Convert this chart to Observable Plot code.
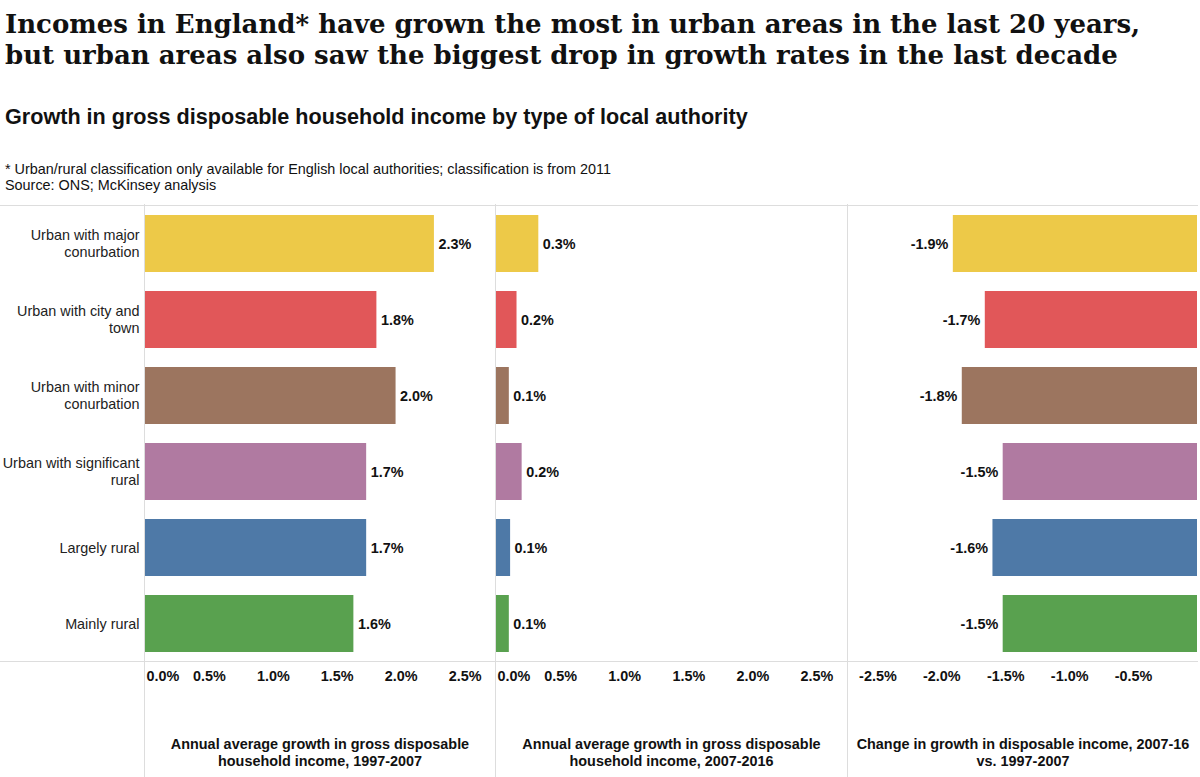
<!DOCTYPE html>
<html>
<head>
<meta charset="utf-8">
<script src="https://cdn.jsdelivr.net/npm/d3@7"></script>
<script src="https://cdn.jsdelivr.net/npm/@observablehq/plot@0.6"></script>
<style>
  body { margin: 0; background: #fff; }
  #page { position: relative; width: 1200px; height: 777px; overflow: hidden; font-family: "Liberation Sans", Arial, sans-serif; color: #111; }
  .title { position: absolute; left: 5px; top: 9px; font-family: "DejaVu Serif", Georgia, serif; font-weight: bold; font-size: 26px; line-height: 31px; white-space: nowrap; color: #111; }
  .subtitle { position: absolute; left: 5px; top: 104px; font-weight: bold; font-size: 21.6px; white-space: nowrap; color: #111; }
  .notes { position: absolute; left: 5px; top: 161px; font-size: 14.4px; line-height: 16px; white-space: nowrap; color: #111; }
  .panel { position: absolute; top: 204px; }
  .sep { border-left: 1px solid #dddddd; }
  .panel svg { display: block; }
</style>
</head>
<body>
<div id="page">
  <div class="title">Incomes in England* have grown the most in urban areas in the last 20 years,<br>but urban areas also saw the biggest drop in growth rates in the last decade</div>
  <div class="subtitle">Growth in gross disposable household income by type of local authority</div>
  <div class="notes">* Urban/rural classification only available for English local authorities; classification is from 2011<br>Source: ONS; McKinsey analysis</div>
  <div id="labels" class="panel" style="left:0px;"></div>
  <div id="p1" class="panel sep" style="left:144px;"></div>
  <div id="p2" class="panel sep" style="left:495px;"></div>
  <div id="p3" class="panel sep" style="left:847px;"></div>
</div>
<script>
// Local authority types (top to bottom) and their wrapped row labels
const categories = [
  "Urban with major conurbation",
  "Urban with city and town",
  "Urban with minor conurbation",
  "Urban with significant rural",
  "Largely rural",
  "Mainly rural"
];
const rowLabels = [
  "Urban with major\nconurbation",
  "Urban with city and\ntown",
  "Urban with minor\nconurbation",
  "Urban with significant\nrural",
  "Largely rural",
  "Mainly rural"
];
const palette = ["#EDC948", "#E15759", "#9C755F", "#B07AA1", "#4E79A7", "#59A14F"];

// Annual average growth in GDHI, % per year
const growth1997to2007 = [2.26, 1.81, 1.96, 1.73, 1.73, 1.63];
const growth2007to2016 = [0.33, 0.16, 0.10, 0.20, 0.11, 0.10];
// Change in growth rate, percentage points
const growthChange = [-1.91, -1.66, -1.84, -1.52, -1.60, -1.52];

// Axis ticks and titles
const ticksPositive = [0, 0.5, 1.0, 1.5, 2.0, 2.5];
const ticksNegative = [-2.5, -2.0, -1.5, -1.0, -0.5];
const axisTitles = [
  "Annual average growth in gross disposable\nhousehold income, 1997-2007",
  "Annual average growth in gross disposable\nhousehold income, 2007-2016",
  "Change in growth in disposable income, 2007-16\nvs. 1997-2007"
];

const pct = d => d.toFixed(1) + "%";
const FS = 14.4;
const H = 573, MT = 1, MB = 116;
const yScale = { domain: categories, paddingInner: 0.25, paddingOuter: 0.125 };
const colorScale = { domain: categories, range: palette };
const style = { fontFamily: "Liberation Sans, Arial, sans-serif", fontSize: FS + "px", color: "#111", background: "transparent" };
const gridStroke = "#dddddd";

// Row labels column
document.getElementById("labels").append(Plot.plot({
  width: 144, height: H, marginTop: MT, marginBottom: MB, marginLeft: 0, marginRight: 0,
  style, y: { ...yScale, axis: null }, x: { axis: null, domain: [0, 1] },
  marks: [
    Plot.frame({ anchor: "top", stroke: gridStroke }),
    Plot.frame({ anchor: "bottom", stroke: gridStroke }),
    Plot.text(categories, {
      y: d => d, text: (d, i) => rowLabels[i], frameAnchor: "right", dx: -5,
      textAnchor: "end", lineHeight: 1.18, fontSize: FS, fill: "#222"
    })
  ]
}));

function panel(values, { width, marginRight, domain, ticks, zeroLabel, title, negative }) {
  const data = categories.map((c, i) => ({ category: c, value: values[i] }));
  const axisOptions = {
    anchor: "bottom", tickSize: 0, tickPadding: 9, tickFormat: pct, label: null,
    fontWeight: "bold", fontSize: FS, fill: "#111"
  };
  const marks = [
    Plot.frame({ anchor: "top", stroke: gridStroke }),
    Plot.frame({ anchor: "bottom", stroke: gridStroke }),
    Plot.barX(data, { x: "value", y: "category", fill: "category" }),
    Plot.text(data, {
      x: "value", y: "category", text: d => pct(d.value),
      textAnchor: negative ? "end" : "start", dx: negative ? -5 : 4,
      fontWeight: "bold", fontSize: FS, fill: "#111"
    }),
    Plot.axisX(ticks.filter(t => !(zeroLabel && t === 0)), axisOptions),
    Plot.text([title], {
      text: d => d, frameAnchor: "bottom", dy: 75, lineAnchor: "top",
      lineHeight: 1.18, fontWeight: "bold", fontSize: FS, fill: "#111"
    })
  ];
  if (zeroLabel) {
    marks.push(Plot.axisX([0], { ...axisOptions, textAnchor: "start", dx: 1 }));
  }
  return Plot.plot({
    width, height: H, marginTop: MT, marginBottom: MB, marginLeft: 0, marginRight,
    style,
    x: { domain, axis: null },
    y: { ...yScale, axis: null },
    color: colorScale,
    marks
  });
}

document.getElementById("p1").append(panel(growth1997to2007, {
  width: 350, marginRight: 1, domain: [0, 2.73], ticks: ticksPositive, zeroLabel: true, title: axisTitles[0]
}));
document.getElementById("p2").append(panel(growth2007to2016, {
  width: 351, marginRight: 1, domain: [0, 2.73], ticks: ticksPositive, zeroLabel: true, title: axisTitles[1]
}));
document.getElementById("p3").append(panel(growthChange, {
  width: 352, marginRight: 3, domain: [-2.73, 0], ticks: ticksNegative, zeroLabel: false, title: axisTitles[2], negative: true
}));
</script>
</body>
</html>
